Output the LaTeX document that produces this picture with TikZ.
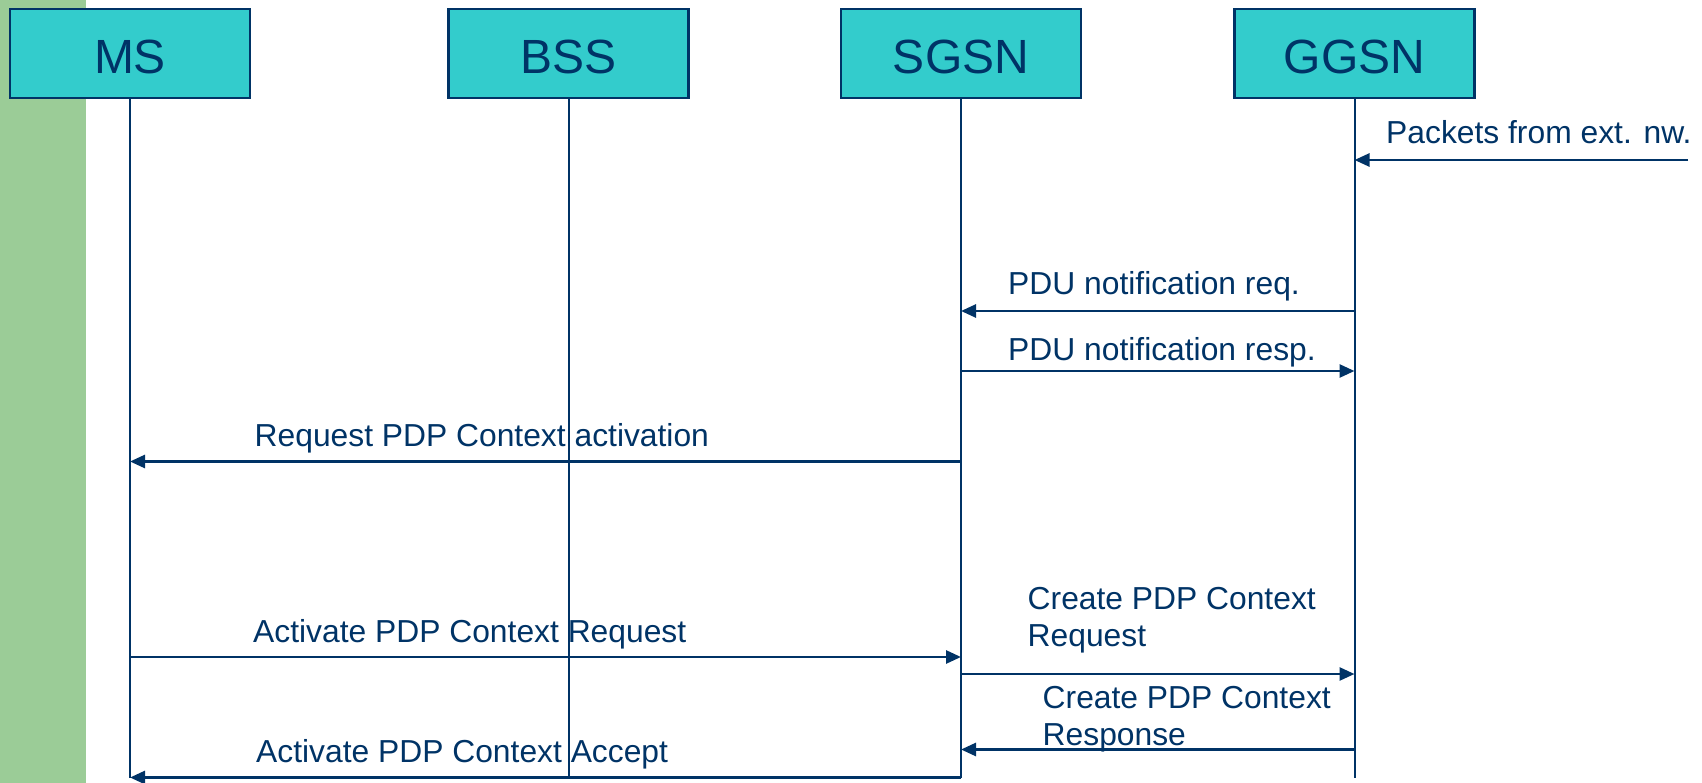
\documentclass[tikz,border=0pt]{standalone}
\usepackage{fontspec}
\setmainfont{Liberation Sans}
\usetikzlibrary{arrows.meta}
\definecolor{navy}{HTML}{003366}
\definecolor{boxcyan}{HTML}{33CCCC}
\definecolor{stripgreen}{HTML}{9BCC97}
\tikzset{
  entity/.style={draw=navy, line width=2.5pt, fill=boxcyan, minimum width=240pt,
    minimum height=89pt, inner sep=0pt, text=navy, text height=40pt, text depth=0pt,
    font=\fontsize{48}{56}\selectfont},
  life/.style={draw=navy, line width=2pt},
  msg/.style={draw=navy, line width=2.7pt, -{Triangle[length=15pt,width=13pt]}},
  lbl/.style={text=navy, inner sep=0pt, anchor=base west, align=left,
    font=\fontsize{31.8}{37}\selectfont}
}
\begin{document}
\begin{tikzpicture}[x=1pt,y=-1pt]
\useasboundingbox (0,0) rectangle (1702,783);
% left margin strip
\fill[stripgreen] (0,0) rectangle (85.8,783);

% entities
\node[entity] (ms)   at (130,53.5)   {MS};
\node[entity] (bss)  at (568.5,53.5) {BSS};
\node[entity] (sgsn) at (961,53.5)   {SGSN};
\node[entity] (ggsn) at (1354.5,53.5){GGSN};

% lifeline ends
\coordinate (msE)   at (130,778);
\coordinate (bssE)  at (568.5,778);
\coordinate (sgsnE) at (961,778);
\coordinate (ggsnE) at (1354.5,778);

% message rows
\coordinate (r1) at (0,160);
\coordinate (r2) at (0,311);
\coordinate (r3) at (0,371);
\coordinate (r4) at (0,461.5);
\coordinate (r5) at (0,657);
\coordinate (r6) at (0,674);
\coordinate (r7) at (0,749.5);
\coordinate (r8) at (0,777.5);
\coordinate (ext) at (1688,160);

% labels (two-line labels are anchored on their last line)
\node[lbl] (l1) at (1386,143.5) {Packets from ext. nw.};
\node[lbl] (l2) at (1008,295)   {PDU notification req.};
\node[lbl] (l3) at (1008,361)   {PDU notification resp.};
\node[lbl] (l4) at (254.5,446)  {Request PDP Context activation};
\node[lbl] (l5) at (1027.5,646.5) {Create PDP Context\\Request};
\node[lbl] (l6) at (253,642)    {Activate PDP Context Request};
\node[lbl] (l7) at (1042.5,745.5) {Create PDP Context\\Response};
\node[lbl] (l8) at (256,762)    {Activate PDP Context Accept};

% lifelines
\draw[life] (ms.south)   -- (msE);
\draw[life] (bss.south)  -- (bssE);
\draw[life] (sgsn.south) -- (sgsnE);
\draw[life] (ggsn.south) -- (ggsnE);

% messages
\draw[msg] (ext) -- (ggsn |- r1);
\draw[msg] (ggsn |- r2) -- (sgsn |- r2);
\draw[msg] (sgsn |- r3) -- (ggsn |- r3);
\draw[msg] (sgsn |- r4) -- (ms |- r4);
\draw[msg] (ms |- r5) -- (sgsn |- r5);
\draw[msg] (sgsn |- r6) -- (ggsn |- r6);
\draw[msg] (ggsn |- r7) -- (sgsn |- r7);
\draw[msg] (sgsn |- r8) -- (ms |- r8);
\end{tikzpicture}
\end{document}
